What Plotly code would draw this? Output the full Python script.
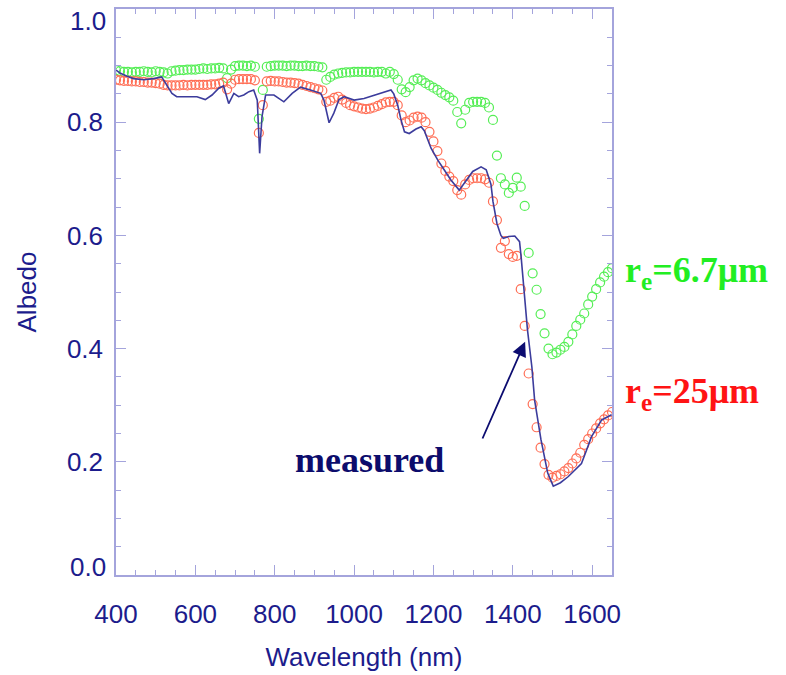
import plotly.graph_objects as go

# wavelength grid of the two model curves (nm)
wl_model = [400, 410, 420, 430, 440, 450, 460, 470, 480, 490,
            500, 510, 520, 530, 540, 550, 560, 570, 580, 590,
            600, 610, 620, 630, 640, 650, 660, 670, 680, 690,
            700, 710, 720, 730, 740, 750, 760, 770, 780, 790,
            800, 810, 820, 830, 840, 850, 860, 870, 880, 890,
            900, 910, 920, 930, 940, 950, 960, 970, 980, 990,
            1000, 1010, 1020, 1030, 1040, 1050, 1060, 1070, 1080, 1090,
            1100, 1110, 1120, 1130, 1140, 1150, 1160, 1170, 1180, 1190,
            1200, 1210, 1220, 1230, 1240, 1250, 1260, 1270, 1280, 1290,
            1300, 1310, 1320, 1330, 1340, 1350, 1360, 1370, 1380, 1390,
            1400, 1410, 1420, 1430, 1440, 1450, 1460, 1470, 1480, 1490,
            1500, 1510, 1520, 1530, 1540, 1550, 1560, 1570, 1580, 1590,
            1600, 1610, 1620, 1630, 1640, 1650]

# re = 6.7 um
albedo_small = [0.892, 0.890, 0.889, 0.889, 0.888, 0.889, 0.889, 0.890, 0.889, 0.888,
                0.890, 0.889, 0.888, 0.886, 0.890, 0.891, 0.892, 0.892, 0.893, 0.893,
                0.893, 0.894, 0.895, 0.894, 0.895, 0.895, 0.896, 0.895, 0.878, 0.893,
                0.899, 0.900, 0.900, 0.899, 0.900, 0.898, 0.806, 0.857, 0.898, 0.899,
                0.900, 0.900, 0.900, 0.899, 0.900, 0.900, 0.899, 0.899, 0.900, 0.899,
                0.899, 0.898, 0.897, 0.875, 0.880, 0.884, 0.886, 0.887, 0.888, 0.888,
                0.889, 0.889, 0.889, 0.889, 0.889, 0.888, 0.889, 0.889, 0.886, 0.889,
                0.885, 0.875, 0.858, 0.853, 0.862, 0.874, 0.877, 0.874, 0.869, 0.865,
                0.861, 0.857, 0.852, 0.848, 0.844, 0.838, 0.818, 0.798, 0.822, 0.834,
                0.836, 0.836, 0.836, 0.834, 0.826, 0.804, 0.741, 0.701, 0.690, 0.675,
                0.684, 0.702, 0.686, 0.652, 0.569, 0.533, 0.504, 0.461, 0.427, 0.400,
                0.390, 0.393, 0.398, 0.403, 0.412, 0.425, 0.440, 0.451, 0.462, 0.478,
                0.492, 0.505, 0.517, 0.527, 0.535, 0.542]

# re = 25 um
albedo_large = [0.875, 0.874, 0.873, 0.873, 0.872, 0.872, 0.871, 0.871, 0.870, 0.870,
                0.869, 0.868, 0.866, 0.865, 0.865, 0.865, 0.865, 0.866, 0.865, 0.866,
                0.866, 0.866, 0.866, 0.866, 0.867, 0.867, 0.868, 0.870, 0.858, 0.868,
                0.875, 0.876, 0.876, 0.876, 0.876, 0.874, 0.781, 0.830, 0.872, 0.873,
                0.872, 0.872, 0.871, 0.870, 0.870, 0.869, 0.868, 0.866, 0.864, 0.862,
                0.860, 0.858, 0.856, 0.836, 0.838, 0.843, 0.845, 0.840, 0.834, 0.830,
                0.828, 0.826, 0.824, 0.823, 0.824, 0.826, 0.829, 0.832, 0.835, 0.836,
                0.836, 0.830, 0.812, 0.800, 0.803, 0.808, 0.810, 0.808, 0.800, 0.783,
                0.766, 0.749, 0.727, 0.714, 0.704, 0.696, 0.680, 0.672, 0.690, 0.698,
                0.701, 0.701, 0.701, 0.699, 0.693, 0.660, 0.627, 0.578, 0.590, 0.567,
                0.562, 0.564, 0.505, 0.440, 0.356, 0.302, 0.261, 0.225, 0.196, 0.177,
                0.172, 0.175, 0.178, 0.183, 0.189, 0.197, 0.206, 0.216, 0.230, 0.240,
                0.250, 0.259, 0.268, 0.275, 0.282, 0.288]

# measured spectrum
wl_meas = [400, 410, 425, 444, 470, 495, 515, 528, 541, 553,
           580, 604, 625, 642, 659, 671, 684, 697, 709, 722,
           735, 747, 756, 762, 768, 777, 798, 823, 844, 865,
           890, 916, 924, 930, 937, 949, 962, 975, 1000, 1025,
           1051, 1076, 1093, 1100, 1110, 1118, 1127, 1139, 1156, 1169,
           1177, 1194, 1211, 1227, 1244, 1265, 1280, 1299, 1320, 1333,
           1345, 1350, 1360, 1370, 1376, 1390, 1405, 1417, 1421, 1429,
           1437, 1448, 1455, 1471, 1488, 1502, 1520, 1540, 1555, 1573,
           1586, 1598, 1624, 1649]
albedo_meas = [0.892, 0.887, 0.882, 0.877, 0.875, 0.877, 0.880, 0.866, 0.851, 0.845,
               0.845, 0.845, 0.840, 0.848, 0.860, 0.864, 0.833, 0.851, 0.845, 0.848,
               0.854, 0.857, 0.839, 0.745, 0.810, 0.848, 0.848, 0.836, 0.851, 0.862,
               0.857, 0.851, 0.839, 0.820, 0.799, 0.816, 0.840, 0.845, 0.839, 0.842,
               0.848, 0.854, 0.857, 0.850, 0.830, 0.805, 0.783, 0.780, 0.788, 0.792,
               0.785, 0.754, 0.733, 0.716, 0.698, 0.680, 0.695, 0.713, 0.721, 0.716,
               0.690, 0.660, 0.621, 0.600, 0.595, 0.598, 0.599, 0.589, 0.562, 0.492,
               0.433, 0.368, 0.309, 0.239, 0.180, 0.157, 0.163, 0.174, 0.185, 0.197,
               0.221, 0.244, 0.274, 0.283]

y_ticks = [0, 0.2, 0.4, 0.6, 0.8, 1.0]
y_labels = ['', '0.2', '0.4', '0.6', '0.8', '']   # 0.0 and 1.0 drawn nudged inward below

navy = '#1c1c8c'
axis_col = '#a4a4dc'
tick_font = dict(family='Liberation Sans', size=26, color=navy)

fig = go.Figure()
fig.add_trace(go.Scatter(x=wl_model, y=albedo_small, mode='markers',
                         marker=dict(symbol='circle-open', size=9, color='#55ee55',
                                     line=dict(width=1.2))))
fig.add_trace(go.Scatter(x=wl_model, y=albedo_large, mode='markers',
                         marker=dict(symbol='circle-open', size=9, color='#ff6e55',
                                     line=dict(width=1.2))))
fig.add_trace(go.Scatter(x=wl_meas, y=albedo_meas, mode='lines',
                         line=dict(color='#3c3c9c', width=1.6)))

axis_style = dict(showline=True, linecolor=axis_col, linewidth=1.5, mirror='ticks',
                  ticks='inside', ticklen=10, tickcolor=axis_col, tickwidth=1.3,
                  showgrid=False, zeroline=False, automargin=False,
                  ticklabeloverflow='allow', tickfont=tick_font,
                  title_font=dict(family='Liberation Sans', size=26, color=navy))

fig.update_xaxes(range=[400, 1650], tickvals=[400, 600, 800, 1000, 1200, 1400, 1600],
                 minor=dict(dtick=50, tick0=400, ticks='inside', ticklen=5,
                            tickcolor=axis_col, tickwidth=1.2),
                 ticklabelstandoff=15, title_text='Wavelength (nm)', title_standoff=20,
                 **axis_style)
fig.update_yaxes(range=[0, 1.0], tickvals=y_ticks, ticktext=y_labels,
                 minor=dict(dtick=0.05, tick0=0, ticks='inside', ticklen=5,
                            tickcolor=axis_col, tickwidth=1.2),
                 ticklabelstandoff=6, title_text='Albedo', title_standoff=23,
                 **axis_style)

# end labels of the y axis sit a little inside the frame in the original
fig.add_annotation(x=0, y=1.0, xref='paper', yref='y', text='1.0', showarrow=False,
                   xanchor='right', xshift=-8, yshift=-12, font=tick_font)
fig.add_annotation(x=0, y=0.0, xref='paper', yref='y', text='0.0', showarrow=False,
                   xanchor='right', xshift=-8, yshift=8, font=tick_font)

fig.add_annotation(x=1431, y=0.412, ax=1322, ay=0.2385, axref='x', ayref='y',
                   text='', showarrow=True, arrowhead=2, arrowsize=1.6,
                   arrowwidth=1.8, arrowcolor='#0c0c70')
fig.add_annotation(x=1040, y=0.203, text='<b>measured</b>', showarrow=False,
                   font=dict(family='Liberation Serif', size=36, color='#0c0c6c'))
fig.add_annotation(x=1.022, y=0.534, xref='paper', yref='paper', xanchor='left',
                   text='<b>r<sub>e</sub>=6.7μm</b>', showarrow=False,
                   font=dict(family='Liberation Serif', size=36, color='#22ee22'))
fig.add_annotation(x=1.022, y=0.277, xref='paper', yref='paper', xanchor='left',
                   text='<b>r<sub>e</sub>=25μm</b>', showarrow=False,
                   font=dict(family='Liberation Serif', size=36, color='#ff1414'))

fig.update_layout(width=786, height=675, showlegend=False,
                  plot_bgcolor='white', paper_bgcolor='white',
                  margin=dict(l=116, r=174, t=9, b=100))

fig.write_html('out.html', config={'displayModeBar': False},
               post_script="document.body.style.margin='0';")
